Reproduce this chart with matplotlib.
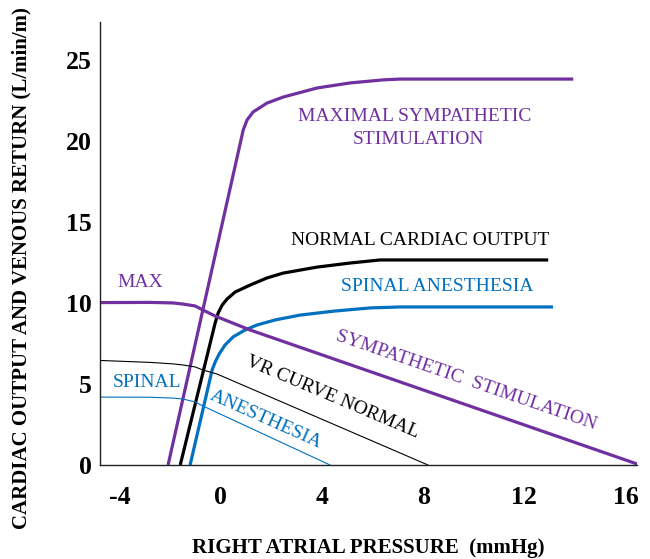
import matplotlib
matplotlib.use("Agg")
import matplotlib.pyplot as plt

# ---- data ----
max_co_x = [-2.08, 0.89, 1.04, 1.28, 1.83, 2.47, 3.81, 5.11, 6.42, 7.09, 13.93]
max_co_y = [0.0, 20.67, 21.28, 21.78, 22.33, 22.70, 23.26, 23.57, 23.76, 23.81, 23.81]

norm_co_x = [-1.60, -0.22, -0.10, 0.06, 0.25, 0.57, 1.16, 1.83, 2.47, 3.81, 5.11, 6.30, 12.94]
norm_co_y = [0.0, 8.76, 9.38, 9.87, 10.24, 10.67, 11.10, 11.54, 11.84, 12.21, 12.46, 12.65, 12.65]

spin_co_x = [-1.21, -0.34, -0.22, -0.06, 0.17, 0.49, 0.96, 1.44, 2.15, 3.14, 4.52, 5.90, 7.09, 13.13]
spin_co_y = [0.0, 5.86, 6.35, 6.85, 7.40, 7.90, 8.33, 8.64, 8.95, 9.25, 9.50, 9.69, 9.75, 9.75]

max_vr_x = [-4.77, -2.79, -1.90, -1.49, -1.01, -0.70, -0.22, 1.16, 16.57]
max_vr_y = [10.02, 10.03, 10.00, 9.93, 9.81, 9.56, 9.19, 8.33, 0.0]

norm_vr_x = [-4.77, -2.79, -1.90, -1.49, -1.01, -0.70, -0.14, 8.19]
norm_vr_y = [6.45, 6.33, 6.24, 6.17, 6.05, 5.86, 5.61, 0.0]

spin_vr_x = [-4.77, -2.79, -1.90, -1.49, -1.01, -0.62, 4.32]
spin_vr_y = [4.19, 4.18, 4.13, 4.07, 3.89, 3.58, 0.0]

x_ticks = [-4, 0, 4, 8, 12, 16]
y_ticks = [0, 5, 10, 15, 20, 25]

PURPLE = "#7030A0"
BLUE = "#0070C0"
BLACK = "#000000"
SERIF = "Liberation Serif"

fig = plt.figure(figsize=(6.5, 5.59), dpi=100)
ax = fig.add_axes([100/650, 1-465/559, (637-100)/650, (465-22)/559])

ax.plot(max_co_x, max_co_y, color=PURPLE, lw=2.3, solid_capstyle="butt", solid_joinstyle="round")
ax.plot(norm_co_x, norm_co_y, color=BLACK, lw=2.3, solid_capstyle="butt", solid_joinstyle="round")
ax.plot(spin_co_x, spin_co_y, color=BLUE, lw=2.3, solid_capstyle="butt", solid_joinstyle="round")
ax.plot(max_vr_x, max_vr_y, color=PURPLE, lw=2.3, solid_capstyle="butt", solid_joinstyle="round")
ax.plot(norm_vr_x, norm_vr_y, color=BLACK, lw=0.8)
ax.plot(spin_vr_x, spin_vr_y, color=BLUE, lw=0.8)

ax.set_xlim(-4.77, 16.45)
ax.set_ylim(0, 27.33)
for s in ["top", "right"]:
    ax.spines[s].set_visible(False)
for s in ["left", "bottom"]:
    ax.spines[s].set_linewidth(1.0)
    ax.spines[s].set_color("#222222")

ax.set_xticks(x_ticks)
ax.set_yticks(y_ticks)
ax.set_xticklabels([str(v) for v in x_ticks], fontfamily=SERIF, fontweight="bold", fontsize=18.5)
ax.set_yticklabels([str(v) for v in y_ticks], fontfamily=SERIF, fontweight="bold", fontsize=18.5)
ax.tick_params(axis="both", length=0)
ax.tick_params(axis="x", pad=15)
ax.tick_params(axis="y", pad=6)

fig.text(368/650, 1-548/559, "RIGHT ATRIAL PRESSURE  (mmHg)", ha="center", va="center",
         fontfamily=SERIF, fontweight="bold", fontsize=15)
fig.text(21/650, 1-268/559, "CARDIAC OUTPUT AND VENOUS RETURN (L/min/m)", ha="center", va="center",
         rotation=90, fontfamily=SERIF, fontweight="bold", fontsize=15)

tk = dict(fontfamily=SERIF, fontsize=14, ha="center", va="center")
ax.text(7.68, 21.47, "MAXIMAL SYMPATHETIC", color=PURPLE, **tk)
ax.text(7.80, 20.11, "STIMULATION", color=PURPLE, **tk)
ax.text(7.88, 13.82, "NORMAL CARDIAC OUTPUT", color=BLACK, **tk)
ax.text(8.55, 11.04, "SPINAL ANESTHESIA", color=BLUE, **tk)
ax.text(-3.18, 11.23, "MAX", color=PURPLE, **tk)
ax.text(-2.91, 5.12, "SPINAL", color=BLUE, **tk)
ax.text(9.70, 5.24, "SYMPATHETIC  STIMULATION", color=PURPLE, rotation=-19, rotation_mode="anchor", **tk)
ax.text(4.40, 4.19, "VR CURVE NORMAL", color=BLACK, rotation=-23, rotation_mode="anchor", **tk)
ax.text(1.80, 2.78, "ANESTHESIA", color=BLUE, rotation=-24, rotation_mode="anchor", **tk)

fig.savefig("out.png", dpi=100)
